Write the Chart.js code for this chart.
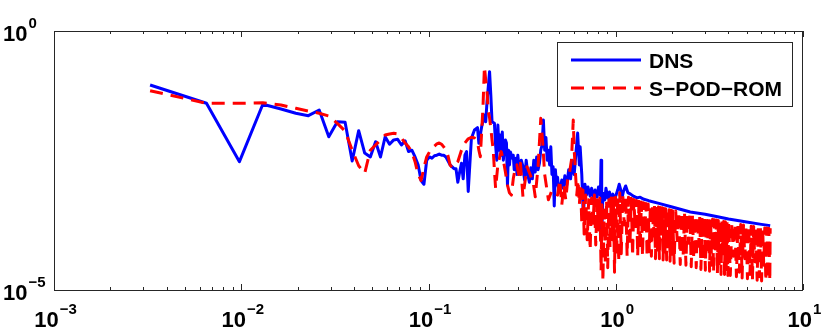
<!DOCTYPE html>
<html>
<head>
<meta charset="utf-8">
<script src="https://cdn.jsdelivr.net/npm/chart.js@4"></script>
<style>
  html, body { margin: 0; padding: 0; background: #fff; }
  #wrap { width: 830px; height: 329px; }
</style>
</head>
<body>
<div id="wrap"><canvas id="myChart" width="830" height="329"></canvas></div>
<script>
// axis ticks (decades) that get a label
const xTickValues = [0.001, 0.01, 0.1, 1, 10];
const xTickExps = ['\u22123', '\u22122', '\u22121', '0', '1'];
const yTickValues = [1, 0.00001];
const yTickExps = ['0', '\u22125'];

// DNS spectrum
const dnsFreq = [
  0.00326, 0.00652, 0.00978, 0.01304, 0.0163, 0.01956, 0.02282, 0.02608, 0.02934, 0.0326,
  0.03586, 0.03912, 0.04238, 0.04564, 0.0489, 0.05216, 0.05542, 0.05868, 0.06194, 0.0652,
  0.06846, 0.07172, 0.07498, 0.07824, 0.0815, 0.08476, 0.08802, 0.09128, 0.09454, 0.0978,
  0.1011, 0.1043, 0.1076, 0.1108, 0.1141, 0.1174, 0.1206, 0.1239, 0.1304, 0.1369,
  0.1402, 0.1434, 0.1467, 0.15, 0.1532, 0.1565, 0.1597, 0.1630, 0.1695, 0.1760,
  0.1826, 0.1858, 0.1923, 0.1989, 0.2021, 0.2054, 0.2119, 0.2152, 0.2184, 0.2249,
  0.2282, 0.2315, 0.2347, 0.238, 0.2412, 0.2445, 0.2478, 0.251, 0.2543, 0.2575,
  0.2608, 0.2641, 0.2673, 0.2706, 0.2738, 0.2804, 0.2836, 0.2869, 0.2901, 0.2934,
  0.2967, 0.2999, 0.3064, 0.3097, 0.313, 0.3195, 0.326, 0.3325, 0.339, 0.3456,
  0.3521, 0.3586, 0.3651, 0.3716, 0.3782, 0.3847, 0.3912, 0.3977, 0.4042, 0.4108,
  0.4173, 0.4238, 0.4303, 0.4368, 0.4434, 0.4499, 0.4564, 0.4629, 0.4694, 0.476,
  0.4825, 0.489, 0.4955, 0.5053, 0.5151, 0.5249, 0.5346, 0.5477, 0.5607, 0.5738,
  0.5868, 0.5998, 0.6129, 0.6259, 0.639, 0.6455, 0.6585, 0.6716, 0.6846, 0.6976,
  0.7107, 0.7302, 0.7433, 0.7628, 0.7759, 0.7954, 0.8085, 0.828, 0.8346, 0.8411,
  0.8541, 0.8737, 0.8867, 0.9063, 0.9258, 0.9454, 0.965, 0.9845, 1.004, 1.024,
  1.043, 1.06, 1.08, 1.1, 1.13, 1.16, 1.2, 1.25, 1.3, 1.35,
  1.4, 1.5, 1.7, 2.0, 2.5, 3.0, 3.5, 4.0, 5.0, 6.0,
  6.68
];
const dnsAmp = [
  0.0907, 0.0402, 0.0030, 0.0385, 0.0312, 0.0258, 0.0232, 0.0299, 0.0091, 0.0177,
  0.0173, 0.0031, 0.0119, 0.0044, 0.0037, 0.0073, 0.0037, 0.0091, 0.0065, 0.0079,
  0.0081, 0.0063, 0.0076, 0.0047, 0.0050, 0.0037, 0.0026, 0.0013, 0.0011, 0.0032,
  0.0037, 0.0035, 0.0039, 0.0040, 0.0042, 0.0040, 0.0040, 0.0037, 0.0026, 0.0022,
  0.0022, 0.0012, 0.0019, 0.0028, 0.0014, 0.0040, 0.0047, 0.0008, 0.0085, 0.0123,
  0.0136, 0.0068, 0.0142, 0.0239, 0.0177, 0.0432, 0.164, 0.0581, 0.0177, 0.0165,
  0.0063, 0.0032, 0.0153, 0.0050, 0.0098, 0.0040, 0.0112, 0.0032, 0.0055, 0.0079,
  0.0069, 0.00106, 0.0050, 0.0026, 0.0046, 0.0035, 0.0040, 0.0021, 0.0024, 0.0035,
  0.0017, 0.0040, 0.0019, 0.0017, 0.0032, 0.0024, 0.00133, 0.0032, 0.0017, 0.0012,
  0.0023, 0.0014, 0.0032, 0.0019, 0.0037, 0.0021, 0.0028, 0.0050, 0.0063, 0.0191,
  0.0050, 0.0088, 0.0032, 0.0050, 0.0026, 0.0058, 0.0017, 0.0024, 0.00042, 0.0021,
  0.00106, 0.0015, 0.00085, 0.00097, 0.00133, 0.00092, 0.0016, 0.00106, 0.0021, 0.0014,
  0.0032, 0.0017, 0.0044, 0.0107, 0.0026, 0.0058, 0.0017, 0.00026, 0.0011, 0.00068,
  0.00097, 0.00065, 0.00092, 0.0006, 0.00085, 0.00062, 0.00097, 0.00068, 0.0032, 0.000105,
  0.00074, 0.00055, 0.00092, 0.0006, 0.00078, 0.00055, 0.00071, 0.00055, 0.00068, 0.00085,
  0.0011, 0.00089, 0.0006, 0.00081, 0.00102, 0.00076, 0.00071, 0.00064, 0.0006, 0.00062,
  0.00057, 0.00053, 0.00047, 0.0004, 0.00032, 0.00029, 0.00026, 0.000235, 0.000205, 0.000185,
  0.000175
];

// S-POD-ROM spectrum
const romFreq = [
  0.00326, 0.00652, 0.00978, 0.01304, 0.0163, 0.01956, 0.02282, 0.02608, 0.02934, 0.0326,
  0.03586, 0.03912, 0.04238, 0.04564, 0.0489, 0.05216, 0.05542, 0.05868, 0.06194, 0.0652,
  0.06846, 0.07172, 0.07498, 0.07824, 0.0815, 0.08476, 0.08802, 0.09128, 0.09454, 0.0978,
  0.1011, 0.1043, 0.1076, 0.1108, 0.1141, 0.1174, 0.1206, 0.1239, 0.1271, 0.1304,
  0.1337, 0.1369, 0.1434, 0.15, 0.1565, 0.1630, 0.1695, 0.1760, 0.1826, 0.1858,
  0.1891, 0.1923, 0.1956, 0.1989, 0.2021, 0.2054, 0.2087, 0.2119, 0.2152, 0.2184,
  0.2217, 0.2249, 0.2282, 0.2347, 0.2412, 0.2445, 0.2510, 0.2575, 0.2641, 0.2706,
  0.2771, 0.2836, 0.2901, 0.2967, 0.3032, 0.3097, 0.3195, 0.3358, 0.3488, 0.3619,
  0.3716, 0.3847, 0.3977, 0.4075, 0.4173, 0.4369, 0.4564, 0.4727,
  0.489, 0.502, 0.515, 0.528, 0.541, 0.554, 0.567, 0.580, 0.590, 0.593,
  0.600, 0.610, 0.619, 0.629, 0.639, 0.649, 0.659, 0.668, 0.678, 0.691,
  0.704, 0.717, 0.730, 0.743, 0.756, 0.769, 0.782, 0.795, 0.808, 0.822,
  0.835, 0.844, 0.854, 0.867, 0.880, 0.893, 0.906, 0.919, 0.932, 0.945,
  0.958, 0.971, 0.985, 0.998, 1.011, 1.024, 1.037,
  1.05, 1.07, 1.09, 1.11, 1.13, 1.15, 1.17, 1.19, 1.21, 1.23,
  1.25, 1.27, 1.29, 1.31, 1.33, 1.35, 1.37, 1.39, 1.41, 1.43,
  1.45, 1.47, 1.49, 1.51, 1.53, 1.55, 1.57, 1.59, 1.61, 1.63,
  1.65, 1.67, 1.69, 1.71, 1.73, 1.75, 1.77, 1.79, 1.81, 1.83,
  1.85, 1.87, 1.89, 1.91, 1.93, 1.95, 1.97, 1.99, 2.01,
  2.05, 2.09, 2.13, 2.17, 2.21, 2.25, 2.29, 2.33, 2.37, 2.41,
  2.45, 2.49, 2.53, 2.57, 2.61, 2.65, 2.69, 2.73, 2.77, 2.81,
  2.85, 2.89, 2.93, 2.97, 3.01, 3.05, 3.09, 3.13, 3.17, 3.21,
  3.25, 3.29, 3.33, 3.37, 3.41, 3.45, 3.49, 3.53, 3.57, 3.61,
  3.65, 3.69, 3.73, 3.77, 3.81, 3.85, 3.89, 3.93, 3.97, 4.01,
  4.09, 4.17, 4.25, 4.33, 4.41, 4.49, 4.57, 4.65, 4.73, 4.81,
  4.89, 4.97, 5.05, 5.13, 5.21, 5.29, 5.37, 5.45, 5.53, 5.61,
  5.69, 5.77, 5.85, 5.93, 6.01, 6.09, 6.17, 6.25, 6.33, 6.41,
  6.49, 6.57, 6.65, 6.68
];
const romAmp = [
  0.0704, 0.0402, 0.0402, 0.0413, 0.0373, 0.0322, 0.0285, 0.0258, 0.0229, 0.0165,
  0.0117, 0.0050, 0.0025, 0.0018, 0.0050, 0.0063, 0.0079, 0.0098, 0.0103, 0.0106,
  0.0103, 0.0086, 0.0069, 0.0058, 0.0046, 0.0030, 0.0017, 0.0013, 0.0023, 0.0037,
  0.0046, 0.0055, 0.0060, 0.0066, 0.0069, 0.0065, 0.0058, 0.0050, 0.0039, 0.0026,
  0.0023, 0.0025, 0.0030, 0.0050, 0.0069, 0.0083, 0.0089, 0.0086, 0.0072, 0.0050,
  0.00374, 0.0114, 0.0373, 0.205, 0.113, 0.066, 0.0273, 0.021, 0.0132, 0.0079,
  0.0050, 0.00207, 0.00092, 0.0026, 0.0040, 0.0047, 0.0032, 0.0019, 0.00106, 0.00075,
  0.00068, 0.0014, 0.0022, 0.0026, 0.0017, 0.0028, 0.00063, 0.0024, 0.0017, 0.00123,
  0.00063, 0.0024, 0.0206, 0.0068, 0.0017, 0.00055, 0.00085, 0.00074,
  0.00068, 0.00133, 0.00044, 0.00106, 0.00055, 0.0014, 0.0019, 0.0032, 0.0123, 0.0191,
  0.0050, 0.0017, 0.00068, 0.00133, 0.00044, 0.00106, 0.00018, 0.00085, 0.00012, 0.00068,
  0.000093, 0.00055, 0.000059, 0.0006, 0.00018, 0.00068, 0.000074, 0.00055, 0.000144, 0.0006,
  0.000024, 0.00044, 0.0000146, 0.00035, 0.00003, 0.00055, 0.000027, 0.00055, 0.000065, 0.0006,
  0.000093, 0.0006, 0.000022, 0.00062, 0.000047, 0.00065, 0.000035,
  0.00075, 0.00005, 0.00071, 0.00018, 0.00066, 0.000045, 0.00062, 0.00007, 0.00059, 0.000045,
  0.00056, 0.00015, 0.000535, 0.000045, 0.000515, 0.00006, 0.0005, 0.000045, 0.000485, 0.00012,
  0.00047, 0.000043, 0.000455, 0.000055, 0.000445, 0.000045, 0.000435, 0.00011, 0.00042, 0.00004,
  0.00041, 0.00005, 0.0004, 0.00004, 0.00039, 0.00012, 0.000385, 0.000038, 0.000375, 0.000045,
  0.00037, 0.000038, 0.00036, 0.0001, 0.000355, 0.000036, 0.000345, 0.00004, 0.00034,
  0.000033, 0.000335, 0.00009, 0.000325, 0.000031, 0.000315, 0.000045, 0.000305, 0.00003, 0.000295,
  0.00008, 0.00029, 0.000028, 0.000282, 0.00004, 0.000275, 0.000027, 0.00027, 0.00007, 0.000263,
  0.000025, 0.000258, 0.000035, 0.000252, 0.000024, 0.000247, 0.00006, 0.000242, 0.000023, 0.000237,
  0.00003, 0.000233, 0.000022, 0.000228, 0.000055, 0.000224, 0.000021, 0.00022, 0.000028, 0.000217,
  0.00002, 0.000213, 0.00005, 0.00021, 0.00002, 0.000207, 0.000025, 0.000204, 0.000019, 0.000201,
  0.000019, 0.000196, 0.000045, 0.000192, 0.000018, 0.000188, 0.000022, 0.000184, 0.000017, 0.00018,
  0.00004, 0.000177, 0.0000165, 0.000174, 0.00002, 0.000171, 0.000016, 0.000169, 0.000035, 0.000166,
  0.0000155, 0.000164, 0.000018, 0.000162, 0.000015, 0.00016, 0.00003, 0.000158, 0.000015, 0.000157,
  0.000016, 0.000156, 0.000015, 0.000155
];

const seriesNames = ['DNS', 'S\u2212POD\u2212ROM'];
const seriesColors = ['#0000ff', '#ff0000'];

const FONT = '"Liberation Sans", Arial, Helvetica, sans-serif';

function toPoints(xs, ys) {
  return xs.map((v, i) => ({ x: v, y: ys[i] }));
}

// draws "10" with a raised exponent, like matlab tick labels
function drawPow(ctx, exp, x, baseY, align) {
  ctx.font = 'bold 22px ' + FONT;
  const wBase = ctx.measureText('10').width;
  ctx.font = 'bold 15px ' + FONT;
  const wExp = ctx.measureText(exp).width;
  let left = x;
  if (align === 'center') left = x - (wBase + wExp) / 2;
  ctx.textAlign = 'left';
  ctx.textBaseline = 'alphabetic';
  ctx.font = 'bold 22px ' + FONT;
  ctx.fillText('10', left, baseY);
  ctx.font = 'bold 15px ' + FONT;
  ctx.fillText(exp, left + wBase + 1, baseY - 13);
}

const axesPlugin = {
  id: 'matlabAxes',
  afterDatasetsDraw(chart) {
    const { ctx, chartArea: a, scales } = chart;
    const xs = scales.x, ys = scales.y;
    ctx.save();
    ctx.strokeStyle = '#262626';
    ctx.lineWidth = 1;
    ctx.strokeRect(a.left + 0.5, a.top + 0.5, a.right - a.left - 1, a.bottom - a.top);

    // inward ticks on bottom and top edge
    ctx.beginPath();
    xTickValues.forEach((dec, i) => {
      const px = Math.round(xs.getPixelForValue(dec)) + 0.5;
      ctx.moveTo(px, a.bottom); ctx.lineTo(px, a.bottom - 6);
      ctx.moveTo(px, a.top); ctx.lineTo(px, a.top + 6);
      if (i < xTickValues.length - 1) {
        for (let m = 2; m <= 9; m++) {
          const p = Math.round(xs.getPixelForValue(dec * m)) + 0.5;
          ctx.moveTo(p, a.bottom); ctx.lineTo(p, a.bottom - 3);
          ctx.moveTo(p, a.top); ctx.lineTo(p, a.top + 3);
        }
      }
    });
    ctx.stroke();

    ctx.fillStyle = '#000';
    xTickValues.forEach((v, i) => {
      drawPow(ctx, xTickExps[i], xs.getPixelForValue(v) + 1, 327, 'center');
    });
    yTickValues.forEach((v, i) => {
      drawPow(ctx, yTickExps[i], 3, ys.getPixelForValue(v) + 10, 'left');
    });

    // legend box
    const bx = 557, by = 42, bw = 235, bh = 64;
    ctx.fillStyle = '#fff';
    ctx.fillRect(bx, by, bw, bh);
    ctx.strokeStyle = '#262626';
    ctx.strokeRect(bx + 0.5, by + 0.5, bw, bh);
    chart.data.datasets.forEach((ds, i) => {
      const ly = i === 0 ? 60 : 88;
      ctx.strokeStyle = ds.borderColor;
      ctx.lineWidth = 3;
      ctx.setLineDash(ds.borderDash || []);
      ctx.beginPath();
      ctx.moveTo(571, ly);
      ctx.lineTo(641, ly);
      ctx.stroke();
      ctx.setLineDash([]);
      ctx.fillStyle = '#000';
      ctx.font = 'bold 21px ' + FONT;
      ctx.textAlign = 'left';
      ctx.textBaseline = 'alphabetic';
      ctx.fillText(ds.label, 649, ly + 8);
    });
    ctx.restore();
  }
};

const ctx = document.getElementById('myChart').getContext('2d');
const myChart = new Chart(ctx, {
  type: 'line',
  data: {
    datasets: [
      {
        label: seriesNames[0],
        data: toPoints(dnsFreq, dnsAmp),
        borderColor: seriesColors[0],
        borderWidth: 3,
        borderJoinStyle: 'round',
        pointRadius: 0,
        tension: 0,
        fill: false,
        order: 1
      },
      {
        label: seriesNames[1],
        data: toPoints(romFreq, romAmp),
        borderColor: seriesColors[1],
        borderWidth: 3,
        borderDash: [13, 8],
        borderJoinStyle: 'round',
        pointRadius: 0,
        tension: 0,
        fill: false,
        order: 0
      }
    ]
  },
  options: {
    responsive: false,
    animation: false,
    layout: { padding: { left: 54, top: 31, right: 27, bottom: 39 } },
    scales: {
      x: { type: 'logarithmic', min: 0.001, max: 10, display: false },
      y: { type: 'logarithmic', min: 0.00001, max: 1, display: false }
    },
    plugins: {
      legend: { display: false },
      tooltip: { enabled: false }
    }
  },
  plugins: [axesPlugin]
});
</script>
</body>
</html>
